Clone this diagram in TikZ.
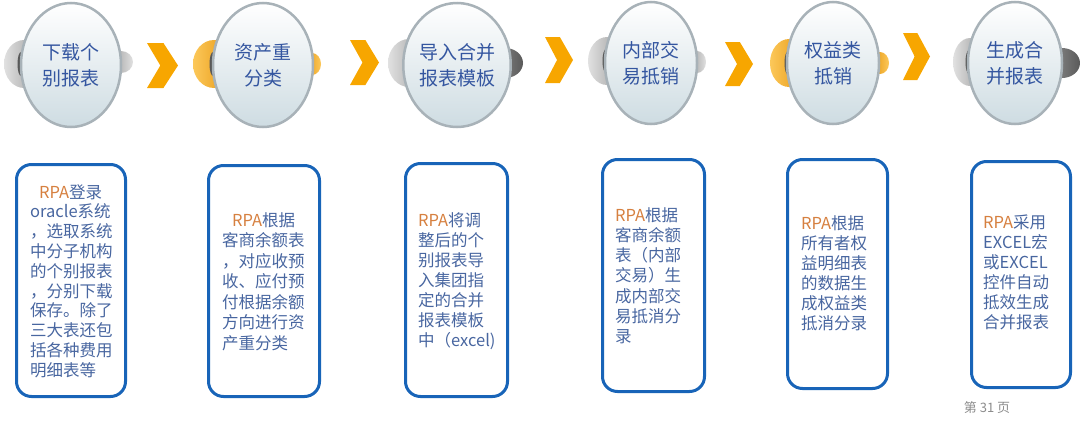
\documentclass[tikz,border=0pt]{standalone}
\usepackage{fontspec}
\setmainfont{Noto Sans CJK SC}
\usetikzlibrary{shapes.geometric}
\definecolor{boxblue}{RGB}{24,100,184}
\definecolor{txtblue}{RGB}{72,102,160}
\definecolor{ovaltxt}{RGB}{52,86,160}
\definecolor{rpaorange}{RGB}{214,128,64}
\definecolor{chevorange}{RGB}{247,166,0}
\definecolor{earOl}{RGB}{252,200,90}
\definecolor{earOd}{RGB}{228,146,10}
\definecolor{earGl}{RGB}{225,225,225}
\definecolor{earGd}{RGB}{150,150,150}
\definecolor{earDl}{RGB}{150,150,150}
\definecolor{earDd}{RGB}{90,90,90}
\definecolor{rim}{RGB}{168,178,184}
\definecolor{ovbot}{RGB}{206,220,226}
\newcommand\rpa{\textcolor{rpaorange}{RPA}}
\newcommand\myear[6]{\shade[left color=#5, right color=#6] (#1,#2) ellipse ({#3} and {#4});}
\newcommand\myhinge[3]{\fill[black!65] (#1,#2) ellipse (3.5 and {#3});}
\newcommand\mychev[5]{%
  \fill[chevorange] (#1,#3) -- ({#1+0.53*#2},#3) -- ({#1+#2},{(#3+#4)/2}) -- ({#1+0.53*#2},#4) -- (#1,#4) -- ({#1+0.43*#2},{(#3+#4)/2}) -- cycle;}
\tikzset{
  oval/.style={ellipse, draw=rim, line width=2.5pt, top color=white, bottom color=ovbot,
    inner sep=0pt, align=center, text=ovaltxt, font=\fontsize{19}{26}\selectfont},
  box/.style={rectangle, draw=boxblue, line width=3pt, rounded corners=15pt, inner sep=0pt},
  btext/.style={anchor=north west, inner sep=0pt, align=left, text=txtblue},
}
\begin{document}
\begin{tikzpicture}[x=1pt,y=-1pt]
\useasboundingbox (0,0) rectangle (1080,426);
% ears
\myear{24}{64}{20}{24}{earGl}{earGd}
\myear{121}{62}{12}{11}{earGd}{earGl}
\myhinge{21}{64}{12}
\myear{214}{64}{21}{24}{earOl}{earOd}
\myear{312}{64}{9}{11}{earOd}{earOl}
\myhinge{213}{64}{12}
\myear{409}{63}{21}{24}{earGl}{earGd}
\myear{505}{63}{18}{15}{earDl}{earDd}
\myhinge{408}{63}{12}
\myear{607}{61}{19}{24}{earGl}{earGd}
\myear{697}{62}{9}{11}{earGd}{earGl}
\myhinge{606}{61}{12}
\myear{789}{63}{19}{24}{earOl}{earOd}
\myear{880}{63}{9}{11}{earOd}{earOl}
\myhinge{788}{63}{12}
\myear{970}{62}{17}{24}{earGl}{earGd}
\myear{1062}{63}{18}{15}{earDl}{earDd}
\myhinge{969}{62}{12}
% ovals
\node[oval, minimum width=100pt, minimum height=124pt] (o1) at (71,65) {下载个\\别报表};
\node[oval, minimum width=100pt, minimum height=124pt] (o2) at (263,65) {资产重\\分类};
\node[oval, minimum width=98pt, minimum height=124pt] (o3) at (457,65) {导入合并\\报表模板};
\node[oval, minimum width=92pt, minimum height=122pt] (o4) at (651,63) {内部交\\易抵销};
\node[oval, minimum width=92pt, minimum height=122pt] (o5) at (833,63) {权益类\\抵销};
\node[oval, minimum width=94pt, minimum height=122pt] (o6) at (1015,63) {生成合\\并报表};
% chevrons
\mychev{147}{31}{43}{88}{}
\mychev{350}{29}{40}{85}{}
\mychev{545}{28}{37}{83}{}
\mychev{725}{28}{42}{86}{}
\mychev{903}{27}{33}{80}{}
% boxes
\node[box, minimum width=109pt, minimum height=232pt] (b1) at (71,280.5) {};
\node[box, minimum width=111pt, minimum height=231pt] (b2) at (264,281) {};
\node[box, minimum width=102pt, minimum height=233pt] (b3) at (456.5,280) {};
\node[box, minimum width=102pt, minimum height=232pt] (b4) at (653.5,275.5) {};
\node[box, minimum width=100pt, minimum height=229pt] (b5) at (837.5,274) {};
\node[box, minimum width=99pt, minimum height=226pt] (b6) at (1021,274.5) {};
% texts
\node[btext, font=\fontsize{16.5}{19.8}\selectfont] (t1) at (30,184) {\hspace*{9pt}\rpa 登录\\oracle系统\\，选取系统\\中分子机构\\的个别报表\\，分别下载\\保存。除了\\三大表还包\\括各种费用\\明细表等};
\node[btext, font=\fontsize{16.5}{20.5}\selectfont] (t2) at (222,212) {\hspace*{10pt}\rpa 根据\\客商余额表\\，对应收预\\收、应付预\\付根据余额\\方向进行资\\产重分类};
\node[btext, font=\fontsize{16.5}{20}\selectfont] (t3) at (418,212) {\rpa 将调\\整后的个\\别报表导\\入集团指\\定的合并\\报表模板\\中（excel)};
\node[btext, font=\fontsize{16.5}{20.3}\selectfont] (t4) at (615,207) {\rpa 根据\\客商余额\\表（内部\\交易）生\\成内部交\\易抵消分\\录};
\node[btext, font=\fontsize{16.5}{20}\selectfont] (t5) at (801,215) {\rpa 根据\\所有者权\\益明细表\\的数据生\\成权益类\\抵消分录};
\node[btext, font=\fontsize{16.5}{20}\selectfont] (t6) at (983,215) {\rpa 采用\\EXCEL宏\\或EXCEL\\控件自动\\抵效生成\\合并报表};
\node[font=\fontsize{13}{13}\selectfont, text=black!45] (pg) at (987,408) {第 31 页};
\end{tikzpicture}
\end{document}
